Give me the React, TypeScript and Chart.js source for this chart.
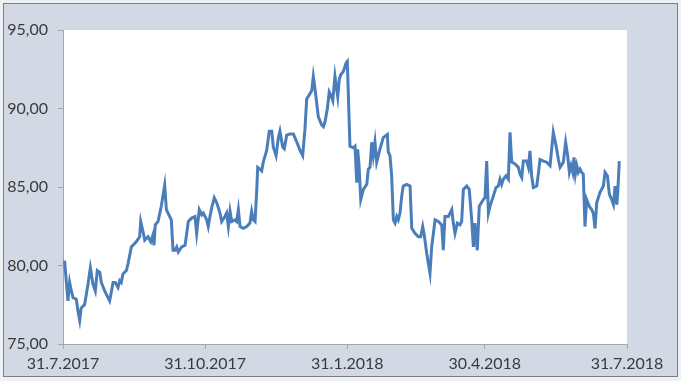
import React, { useEffect, useRef } from "react";
import { Chart, registerables } from "chart.js";

Chart.register(...registerables);

// days since 31.7.2017
const days: number[] = [
  0, 1.1, 3.2, 4.3, 5.4, 6.5, 8.6, 9.7, 10.8, 11.8, 14.0, 16.2, 17.7, 19.4, 20.9, 22.2, 23.8, 24.8, 27.0, 29.1,
  30.2, 32.4, 33.8, 35.6, 36.7, 37.7, 38.8, 41.0, 42.1, 44.2, 47.4, 49.6, 50.3, 51.8, 52.9, 55.0, 56.8, 58.2, 58.9, 59.7,
  61.5, 63.6, 65.8, 66.9, 70.1, 71.2, 72.5, 73.6, 74.6, 76.8, 79.0, 81.1, 83.3, 85.4, 86.5, 88.2, 89.8, 90.8, 93.0, 94.0,
  95.1, 96.2, 97.9, 99.5, 101.6, 102.7, 104.8, 105.9, 107.0, 108.1, 109.2, 111.3, 112.4, 113.5, 114.6, 116.7, 118.9, 121.0, 122.1, 123.2,
  124.3, 125.4, 126.0, 127.5, 128.6, 129.6, 131.8, 133.5, 135.1, 136.1, 137.9, 139.3, 140.4, 142.2, 143.2, 144.8, 146.9, 149.1, 151.3, 153.4,
  155.1, 156.6, 157.7, 159.9, 161.0, 162.0, 163.1, 165.2, 167.4, 168.5, 169.6, 171.1, 172.3, 173.3, 174.6, 176.0, 177.1, 177.8, 178.8, 179.7,
  181.4, 183.2, 184.0, 185.7, 187.9, 189.0, 190.1, 190.7, 191.6, 192.7, 194.4, 196.6, 197.6, 198.7, 199.8, 200.8, 201.9, 203.0, 205.2, 207.3,
  209.9, 210.5, 211.6, 212.7, 213.8, 214.9, 216.0, 217.0, 218.1, 219.2, 220.2, 222.4, 224.6, 225.7, 227.8, 230.0, 231.5, 232.8, 233.8, 235.4,
  237.5, 238.6, 240.8, 242.9, 245.1, 246.1, 247.2, 249.4, 250.5, 251.6, 252.6, 253.7, 255.2, 256.9, 258.0, 259.1, 261.3, 262.9, 264.5, 265.6,
  266.6, 268.1, 269.4, 272.0, 273.1, 274.2, 275.3, 276.3, 278.5, 280.2, 281.7, 282.8, 283.9, 285.0, 286.7, 288.2, 289.3, 290.4, 292.5, 294.7,
  295.8, 296.9, 297.9, 300.1, 301.2, 302.2, 303.3, 304.4, 306.6, 307.6, 308.7, 310.9, 313.0, 315.2, 317.3, 319.1, 320.6, 321.7, 323.8, 325.3,
  326.6, 327.7, 328.8, 329.9, 330.7, 331.6, 332.5, 333.5, 334.6, 335.7, 336.7, 337.8, 338.9, 340.6, 342.1, 343.2, 344.3, 345.4, 347.5, 349.7,
  350.8, 352.3, 353.6, 355.1, 356.2, 357.3, 358.4, 359.0, 360.0,
];

const prices: number[] = [
  80.2, 80.21, 77.74, 78.92, 78.38, 77.95, 77.85, 77.09, 76.5, 77.3, 77.52, 78.82, 79.85, 78.82, 78.38, 79.68, 79.57, 78.92, 78.38, 77.95,
  77.74, 78.92, 78.92, 78.6, 79.03, 78.92, 79.46, 79.68, 80.11, 81.18, 81.51, 81.83, 82.8, 82.15, 81.62, 81.83, 81.51, 81.94, 81.29, 82.59,
  82.8, 83.77, 85.12, 83.56, 82.91, 80.97, 80.97, 81.18, 80.86, 81.18, 81.29, 82.8, 83.02, 83.12, 82.05, 83.56, 83.23, 83.34, 82.91, 82.48,
  83.12, 83.67, 84.31, 83.99, 83.34, 82.8, 83.12, 83.34, 82.48, 83.45, 82.8, 82.91, 82.8, 83.56, 82.48, 82.37, 82.48, 82.7, 83.45, 82.91,
  82.8, 84.85, 86.25, 86.14, 86.03, 86.58, 87.33, 88.55, 88.55, 87.55, 87.0, 88.09, 88.55, 87.55, 87.44, 88.3, 88.38, 88.38, 87.87, 87.33,
  87.0, 88.7, 90.6, 90.95, 91.15, 92.05, 91.25, 89.49, 88.95, 88.84, 89.17, 90.0, 91.05, 90.85, 90.5, 92.05, 91.25, 90.75, 91.85, 92.15,
  92.35, 92.9, 93.0, 87.6, 87.5, 87.6, 85.28, 87.4, 86.36, 84.2, 84.85, 85.17, 86.14, 86.25, 87.85, 87.0, 87.85, 86.58, 87.44, 88.15,
  88.35, 87.23, 87.0, 85.71, 82.91, 82.7, 83.12, 82.91, 83.34, 84.42, 85.06, 85.17, 85.06, 82.37, 82.05, 81.83, 81.83, 82.48, 81.94, 80.76,
  79.5, 81.18, 82.91, 82.8, 82.59, 80.97, 83.12, 83.12, 83.34, 83.56, 82.7, 82.05, 82.7, 82.59, 82.8, 84.85, 85.06, 84.85, 82.91, 81.18,
  82.7, 80.97, 83.77, 84.2, 84.31, 86.65, 83.34, 83.77, 84.42, 84.96, 85.06, 85.5, 85.17, 85.5, 85.71, 85.5, 88.48, 86.58, 86.47, 86.25,
  85.82, 85.61, 86.65, 86.65, 86.25, 87.3, 85.71, 84.96, 85.06, 85.82, 86.75, 86.65, 86.58, 86.36, 88.48, 87.62, 86.75, 86.25, 86.58, 87.85,
  87.0, 85.93, 86.36, 85.93, 86.88, 85.82, 86.36, 85.93, 86.14, 85.93, 85.82, 82.48, 84.2, 83.77, 83.56, 83.34, 82.37, 83.99, 84.64, 85.06,
  85.93, 85.71, 84.53, 84.2, 83.88, 85.06, 83.88, 84.64, 86.65,
];

const xTickDays: number[] = [0, 92, 184, 273, 365];
const xTickLabels: string[] = ["31.7.2017", "31.10.2017", "31.1.2018", "30.4.2018", "31.7.2018"];
const yMin = 75;
const yMax = 95;
const yStep = 5;

export default function App() {
  const ref = useRef<HTMLCanvasElement | null>(null);

  useEffect(() => {
    document.body.style.margin = "0";
    const canvas = ref.current;
    if (!canvas) return;
    const font = { family: "Lato, 'Open Sans', sans-serif", size: 16 };
    const chart = new Chart(canvas, {
      type: "line",
      data: {
        datasets: [
          {
            data: days.map((d, i) => ({ x: d, y: prices[i] })),
            borderColor: "#4a7ebb",
            borderWidth: 3,
            pointRadius: 0,
            tension: 0,
            fill: false,
          },
        ],
      },
      options: {
        animation: false,
        responsive: false,
        maintainAspectRatio: false,
        layout: { padding: { left: 0, right: 54, top: 30, bottom: 0 } },
        plugins: { legend: { display: false }, tooltip: { enabled: false } },
        scales: {
          x: {
            type: "linear",
            min: 0,
            max: 365,
            afterBuildTicks: (s: any) => {
              s.ticks = xTickDays.map((v) => ({ value: v }));
            },
            afterFit: (s: any) => {
              s.height = 37;
            },
            ticks: {
              autoSkip: false,
              maxRotation: 0,
              color: "#3a3a3a",
              font,
              padding: 5,
              callback: (v: any) => {
                const i = xTickDays.indexOf(Number(v));
                return i >= 0 ? xTickLabels[i] : "";
              },
            },
            grid: { drawOnChartArea: false, tickLength: 5, color: "#a6a6a6" },
            border: { color: "#a6a6a6", width: 1 },
          },
          y: {
            min: yMin,
            max: yMax,
            afterFit: (s: any) => {
              s.width = 63;
            },
            ticks: {
              stepSize: yStep,
              color: "#3a3a3a",
              font,
              padding: 10,
              callback: (v: any) => Number(v).toFixed(2).replace(".", ","),
            },
            grid: { drawOnChartArea: false, tickLength: 5, color: "#a6a6a6" },
            border: { color: "#a6a6a6", width: 1 },
          },
        },
      },
      plugins: [
        {
          id: "plotBg",
          beforeDraw: (c: any) => {
            const { ctx, chartArea } = c;
            ctx.save();
            ctx.fillStyle = "#ffffff";
            ctx.fillRect(chartArea.left, chartArea.top, chartArea.right - chartArea.left, chartArea.bottom - chartArea.top);
            ctx.restore();
          },
        },
      ],
    } as any);
    return () => chart.destroy();
  }, []);

  return (
    <div
      style={{
        position: "absolute",
        left: 0,
        top: 0,
        width: 681,
        height: 381,
        background: "#eef0f3",
        overflow: "hidden",
      }}
    >
      <div
        style={{
          position: "absolute",
          left: 3,
          top: 3,
          width: 675,
          height: 374,
          boxSizing: "border-box",
          border: "1px solid #7f7f7f",
          background: "#d2d9e5",
        }}
      />
      <canvas
        ref={ref}
        width={681}
        height={381}
        style={{ position: "absolute", left: 0, top: 0, display: "block", width: 681, height: 381 }}
      />
    </div>
  );
}
